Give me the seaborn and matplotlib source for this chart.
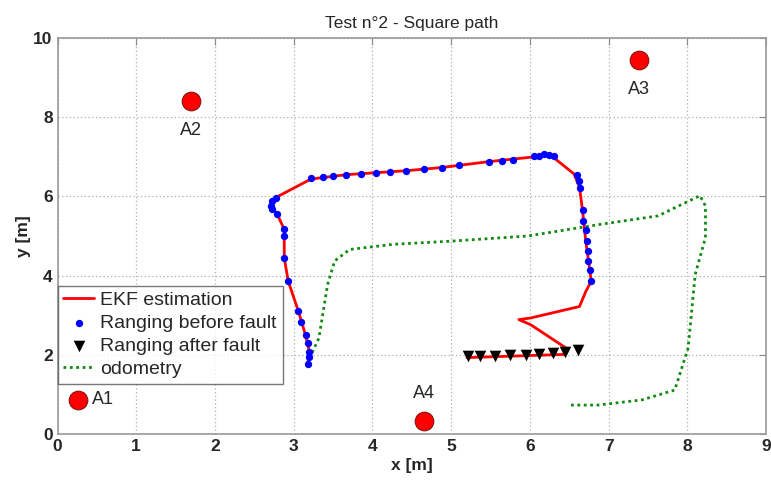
import numpy as np
import pandas as pd
import matplotlib
matplotlib.use("Agg")
import matplotlib.pyplot as plt
import seaborn as sns

# =========================
# data
# =========================
anchor_names = ["A1", "A2", "A3", "A4"]
anchor_x = [0.26, 1.69, 7.38, 4.66]
anchor_y = [0.86, 8.41, 9.44, 0.33]

ekf_x = [3.18, 3.20, 3.15, 3.06, 2.93, 2.88, 2.88, 2.79, 2.71, 2.77, 3.22, 3.67,
         4.43, 4.88, 5.48, 6.01, 6.18, 6.29, 6.56, 6.63, 6.67, 6.71, 6.78, 6.71,
         6.63, 6.01, 5.86, 6.01, 6.46, 6.44, 5.20]
ekf_y = [1.78, 2.08, 2.50, 3.10, 3.86, 4.45, 5.17, 5.55, 5.76, 5.97, 6.44, 6.55,
         6.65, 6.73, 6.88, 6.99, 7.07, 7.00, 6.57, 6.23, 5.63, 4.87, 3.86, 3.60,
         3.22, 2.93, 2.89, 2.76, 2.17, 2.01, 1.93]

before_x = [3.18, 3.20, 3.20, 3.18, 3.15, 3.09, 3.05, 2.93, 2.88, 2.88, 2.88, 2.79,
            2.73, 2.71, 2.73, 2.77, 3.22, 3.37, 3.50, 3.67, 3.85, 4.04, 4.22, 4.43,
            4.65, 4.88, 5.10, 5.48, 5.64, 5.78, 6.05, 6.12, 6.18, 6.24, 6.30, 6.60,
            6.62, 6.64, 6.68, 6.68, 6.71, 6.73, 6.74, 6.74, 6.76, 6.78]
before_y = [1.78, 1.95, 2.08, 2.29, 2.50, 2.84, 3.10, 3.86, 4.45, 5.00, 5.19, 5.55,
            5.68, 5.76, 5.89, 5.97, 6.46, 6.50, 6.52, 6.55, 6.57, 6.59, 6.62, 6.65,
            6.69, 6.73, 6.79, 6.88, 6.90, 6.93, 7.01, 7.03, 7.06, 7.05, 7.01, 6.54,
            6.38, 6.21, 5.65, 5.38, 5.14, 4.87, 4.62, 4.37, 4.13, 3.86]

after_x = [5.22, 5.37, 5.56, 5.75, 5.95, 6.12, 6.29, 6.44, 6.61]
after_y = [1.97, 1.96, 1.96, 2.00, 2.00, 2.02, 2.04, 2.08, 2.12]

odo_x = [3.20, 3.32, 3.43, 3.52, 3.71, 4.26, 4.99, 5.97, 6.91, 7.63, 8.16, 8.23,
         8.23, 8.10, 8.01, 7.84, 7.42, 6.86, 6.48]
odo_y = [1.91, 2.42, 3.77, 4.37, 4.66, 4.79, 4.87, 5.00, 5.30, 5.51, 6.02, 5.76,
         4.96, 4.03, 2.17, 1.11, 0.86, 0.73, 0.73]

ekf_df = pd.DataFrame({"x": ekf_x, "y": ekf_y})
odo_df = pd.DataFrame({"x": odo_x, "y": odo_y})

# =========================
# style
# =========================
sns.set_style("white")
plt.rcParams["font.family"] = ["Liberation Sans", "DejaVu Sans"]

fig = plt.figure(figsize=(7.71, 4.82), dpi=100)
ax = fig.add_axes([0.0746, 0.0996, 0.919, 0.8214])

sns.lineplot(data=ekf_df, x="x", y="y", sort=False, estimator=None, color="red",
             linewidth=2, label="EKF estimation", ax=ax, zorder=3)
sns.scatterplot(x=before_x, y=before_y, color="blue", s=28, linewidth=0,
                label="Ranging before fault", ax=ax, zorder=4)
sns.scatterplot(x=after_x, y=after_y, color="black", marker="v", s=70,
                linewidth=0, label="Ranging after fault", ax=ax, zorder=4)
sns.lineplot(data=odo_df, x="x", y="y", sort=False, estimator=None,
             color="#108a10", linewidth=2, linestyle=(0, (1, 1.3)),
             label="odometry", ax=ax, zorder=2)

# anchors
sns.scatterplot(x=anchor_x, y=anchor_y, color="red", s=180, edgecolor="#8a1010",
                linewidth=0.8, ax=ax, zorder=5, legend=False)
offsets = {"A1": (10, 0, "left", "center"), "A2": (0, -21, "center", "center"),
           "A3": (0, -21, "center", "center"), "A4": (0, 20, "center", "center")}
for name, xa, ya in zip(anchor_names, anchor_x, anchor_y):
    dx, dy, ha, va = offsets[name]
    ax.annotate(name, (xa, ya), xytext=(dx, dy), textcoords="offset points",
                ha=ha, va=va, fontsize=13)

ax.set_xlim(0, 9)
ax.set_ylim(0, 10)
ax.set_xticks(range(0, 10))
ax.set_yticks(range(0, 11, 2))
ax.grid(True, color="#b0b0b0", linestyle=(0, (1, 2)), linewidth=0.9)
ax.tick_params(direction="in", top=True, right=True, length=5, color="#888888",
               labelsize=12.5)
for lab in ax.get_xticklabels() + ax.get_yticklabels():
    lab.set_fontweight("bold")
for sp in ax.spines.values():
    sp.set_color("#999999")
    sp.set_linewidth(1.2)

ax.set_title("Test n°2 - Square path", fontsize=12.5, pad=7)
ax.set_xlabel("x [m]", fontsize=12.5, fontweight="bold", labelpad=3)
ax.set_ylabel("y [m]", fontsize=12.5, fontweight="bold", labelpad=2)

leg = ax.legend(loc="lower left", bbox_to_anchor=(0.0, 0.126), borderaxespad=0,
                fontsize=14, frameon=True, fancybox=False, handlelength=1.6,
                handletextpad=0.3, borderpad=0.3, labelspacing=0.28)
leg.get_frame().set_edgecolor("#555555")
leg.get_frame().set_linewidth(1.0)

plt.savefig("out.png", dpi=100)
